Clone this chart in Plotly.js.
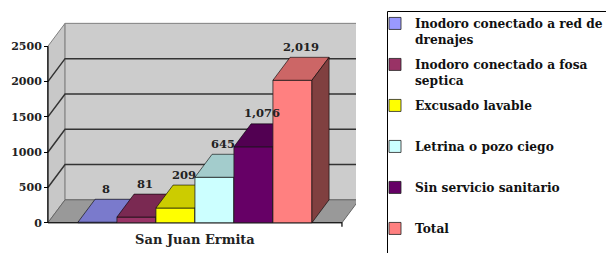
<!DOCTYPE html>
<html><head><meta charset="utf-8">
<script src="https://cdn.plot.ly/plotly-3.0.1.min.js"></script>
<style>html,body{margin:0;padding:0;background:#fff;overflow:hidden}#chart{width:606px;height:253px}</style>
</head><body><div id="chart"></div>
<script>
// ---- data ----
const categories = ['San Juan Ermita'];
const seriesNames = ['Inodoro conectado a red de<br>drenajes', 'Inodoro conectado a fosa<br>septica', 'Excusado lavable', 'Letrina o pozo ciego', 'Sin servicio sanitario', 'Total'];
const seriesValues = [8, 81, 209, 645, 1076, 2019];
const yTickValues = [0, 500, 1000, 1500, 2000, 2500];
const frontColors = ['#9999FF', '#993366', '#FFFF00', '#CCFFFF', '#660066', '#FF8080'];
const topColors = ['#7A7ACC', '#7A2952', '#CCCC00', '#A3CCCC', '#520052', '#CC6666'];
const sideColors = ['#4D4D80', '#4D1A33', '#808000', '#668080', '#330033', '#804040'];

// ---- style / geometry ----
const DX = 0.44, DY = 325, GAP = 0.77, BW = 1, LABEL_PAD = 50;
const FONT = '"DejaVu Serif", "Liberation Serif", serif';
const n = seriesValues.length;
const W = 2 * GAP + n * BW;
const YMAX = yTickValues[yTickValues.length - 1];
const XR = [-0.1, 7.9], YR = [-60, 3000];
const PL = 44, PW = 312, H = 253, PTOP = 11, PBOT = 227;
const YDOM = [(H - PBOT) / H, (H - PTOP) / H];
const px2paperX = p => (p - PL) / PW;
const LEGFONT = 12.2;

const traces = [];
const poly = (x, y, fill, lc, lw, xa, ya) => ({
  type: 'scatter', mode: 'lines', x: x, y: y, fill: 'toself', fillcolor: fill,
  line: {color: lc, width: lw}, hoverinfo: 'skip', showlegend: false,
  xaxis: xa || 'x', yaxis: ya || 'y'
});
// side wall, back wall, floor
traces.push(poly([0, 0, DX, DX, 0], [0, YMAX, YMAX + DY, DY, 0], '#C8C8C8', '#808080', 1));
traces.push(poly([DX, DX + W, DX + W, DX, DX], [DY, DY, YMAX + DY, YMAX + DY, DY], '#CCCCCC', '#808080', 1));
traces.push(poly([0, W, W + DX, DX, 0], [0, 0, DY, DY, 0], '#999999', '#666666', 1));
// gridlines
const gx = [], gy = [];
yTickValues.slice(1, -1).forEach(v => {
  gx.push(0, DX, DX + W, null); gy.push(v, v + DY, v + DY, null);
});
traces.push({type: 'scatter', mode: 'lines', x: gx, y: gy, line: {color: '#333333', width: 1.5}, hoverinfo: 'skip', showlegend: false});
// axis lines
traces.push({type: 'scatter', mode: 'lines', x: [0, 0, null, 0, W, W], y: [0, YMAX, null, 0, 0, -55],
  line: {color: '#000', width: 1.2}, hoverinfo: 'skip', showlegend: false});

// bars: each in its own overlaid subplot so nearer bars cover farther ones
seriesValues.forEach((v, i) => {
  const k = i + 2, xa = 'x' + k, ya = 'y' + k;
  const x0 = GAP + i * BW, x1 = x0 + BW;
  traces.push(poly([x0, x1, x1 + DX, x0 + DX, x0], [v, v, v + DY, v + DY, v], topColors[i], '#000', 0.6, xa, ya));
  traces.push(poly([x1, x1 + DX, x1 + DX, x1, x1], [0, DY, v + DY, v, 0], sideColors[i], '#000', 0.6, xa, ya));
  traces.push({
    type: 'bar', x: [x0 + BW / 2], y: [v], width: BW,
    name: seriesNames[i].includes('<br>') ? seriesNames[i] : seriesNames[i] + '<br>\u00a0',
    legendgroup: 'g' + i, marker: {color: frontColors[i], line: {color: '#222', width: 0.8}},
    xaxis: xa, yaxis: ya, hoverinfo: 'skip'
  });
});
// value labels
traces.push({
  type: 'scatter', mode: 'text', xaxis: 'x' + (n + 1), yaxis: 'y' + (n + 1),
  x: seriesValues.map((v, i) => GAP + i * BW + BW / 2 + DX / 2),
  y: seriesValues.map(v => v + DY + LABEL_PAD),
  text: seriesValues.map(v => v.toLocaleString('en-US')),
  textposition: 'top center', cliponaxis: false,
  textfont: {family: FONT, size: 11.5, color: '#222', weight: 'bold'},
  hoverinfo: 'skip', showlegend: false
});

const layout = {
  width: 606, height: H,
  margin: {l: PL, r: 606 - PL - PW, t: 0, b: 0, autoexpand: false},
  paper_bgcolor: '#fff', plot_bgcolor: 'rgba(0,0,0,0)',
  showlegend: true, barmode: 'overlay',
  legend: {x: px2paperX(375), y: 1 - 9 / H, xanchor: 'left', yanchor: 'top', bgcolor: 'rgba(0,0,0,0)',
    borderwidth: 0, valign: 'top', tracegroupgap: 41 - (2 * 1.3 * LEGFONT + 3),
    font: {family: FONT, size: LEGFONT, color: '#111', weight: 'bold'}},
  shapes: [{type: 'rect', xref: 'paper', yref: 'paper', x0: px2paperX(387.5), x1: px2paperX(640),
    y0: -0.2, y1: 1 - 11.5 / H, line: {color: '#000', width: 1}, fillcolor: 'rgba(0,0,0,0)', layer: 'below'}],
  xaxis: {range: XR, tickvals: [W / 2], ticktext: categories, ticks: '', showgrid: false,
    zeroline: false, showline: false, fixedrange: true, ticklabelstandoff: 3,
    tickfont: {family: FONT, size: 13, color: '#222', weight: 'bold'}},
  yaxis: {range: YR, domain: YDOM, anchor: 'free', position: px2paperX(48), tickvals: yTickValues,
    ticktext: yTickValues.map(String), ticks: 'outside', ticklen: 4, tickcolor: '#000',
    showgrid: false, zeroline: false, showline: false, fixedrange: true,
    tickfont: {family: FONT, size: 11, color: '#222', weight: 'bold'}}
};
for (let k = 2; k <= n + 1; k++) {
  layout['xaxis' + k] = {overlaying: 'x', anchor: 'y' + k, range: XR, visible: false, fixedrange: true};
  layout['yaxis' + k] = {overlaying: 'y', anchor: 'x' + k, range: YR, domain: YDOM, visible: false, fixedrange: true};
}
Plotly.newPlot('chart', traces, layout, {displayModeBar: false, staticPlot: true});
</script></body></html>
